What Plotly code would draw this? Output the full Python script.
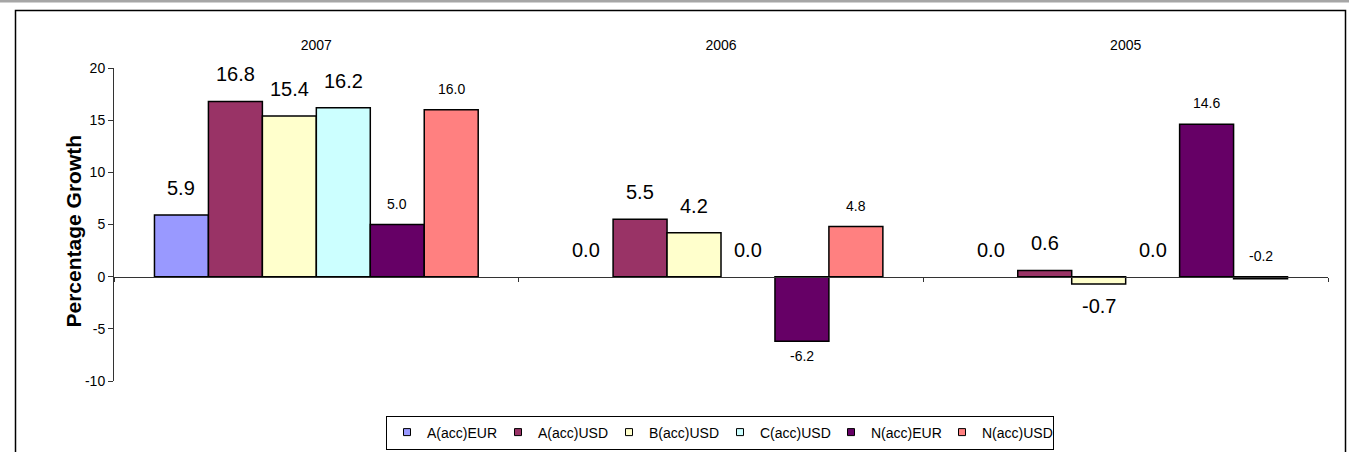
import plotly.graph_objects as go

W, H = 1349, 452

years = ["2007", "2006", "2005"]
series_names = ["A(acc)EUR", "A(acc)USD", "B(acc)USD", "C(acc)USD", "N(acc)EUR", "N(acc)USD"]
a_eur = [5.9, 0.0, 0.0]
a_usd = [16.8, 5.5, 0.6]
b_usd = [15.4, 4.2, -0.7]
c_usd = [16.2, 0.0, 0.0]
n_eur = [5.0, -6.2, 14.6]
n_usd = [16.0, 4.8, -0.2]
values = [a_eur, a_usd, b_usd, c_usd, n_eur, n_usd]
colors = ["#9999FF", "#993366", "#FFFFCC", "#CCFFFF", "#660066", "#FF8080"]
big_label = [True, True, True, True, False, False]
y_ticks = [-10, -5, 0, 5, 10, 15, 20]

FONT = "Liberation Sans, Arial, sans-serif"

# pixel layout -> paper fractions
px_x0, px_x1 = 114, 1328
px_ytop, px_ybot = 68, 381
xdom = [px_x0 / W, px_x1 / W]
ydom = [1 - px_ybot / H, 1 - px_ytop / H]
yrange = [-10, 20]
zero_pos = ydom[0] + (0 - yrange[0]) / (yrange[1] - yrange[0]) * (ydom[1] - ydom[0])

bargap = 0.2
n = len(series_names)
bw = (1 - bargap) / n
xcat = list(range(len(years)))

fig = go.Figure()
for j, (name, vals, col) in enumerate(zip(series_names, values, colors)):
    fig.add_trace(go.Bar(
        x=xcat, y=vals, name=name,
        marker=dict(color=col, line=dict(color="black", width=[0 if v == 0 else 1.5 for v in vals])),
        showlegend=False, hoverinfo="y"))
    # legend proxy
    fig.add_trace(go.Scatter(
        x=[None], y=[None], mode="markers", name=name,
        marker=dict(symbol="square", size=7, color=col, line=dict(color="black", width=1))))

# axis line at zero with category boundary ticks
fig.add_trace(go.Scatter(x=[None], y=[None], xaxis="x2", yaxis="y", showlegend=False, hoverinfo="skip"))

annotations = []
for j, vals in enumerate(values):
    for i, v in enumerate(vals):
        xc = i - (1 - bargap) / 2 + (j + 0.5) * bw
        below = v < -0.5
        if big_label[j]:
            size, up, down = 20, 27, -22
        else:
            size, up, down = 14, 21, -15
        annotations.append(dict(
            x=xc, y=v if below else max(v, 0), xref="x", yref="y",
            text=f"{v:.1f}", showarrow=False, yanchor="middle", xanchor="center",
            yshift=down if below else up, font=dict(size=size, color="black", family=FONT)))

annotations.append(dict(
    x=60 / W, y=1 - 231 / H, xref="paper", yref="paper", text="<b>Percentage Growth</b>",
    textangle=-90, showarrow=False, font=dict(size=21, color="black", family=FONT)))

shapes = [
    dict(type="rect", xref="paper", yref="paper", x0=0, x1=1, y0=1 - 2.5 / H, y1=1.02,
         fillcolor="#a6a6a6", line=dict(width=0), layer="above"),
    dict(type="rect", xref="paper", yref="paper", x0=15.5 / W, x1=1345.5 / W, y0=-0.1, y1=1 - 10.5 / H,
         line=dict(color="black", width=1.5), fillcolor="rgba(0,0,0,0)"),
]

fig.update_layout(
    width=W, height=H, margin=dict(l=0, r=0, t=0, b=0),
    paper_bgcolor="white", plot_bgcolor="white",
    barmode="group", bargap=bargap, bargroupgap=0,
    font=dict(family=FONT, color="black"),
    xaxis=dict(domain=xdom, range=[-0.5, 2.5], tickvals=xcat, ticktext=years, side="top",
               showline=False, showgrid=False, zeroline=False, ticks="", ticklabelstandoff=14,
               tickfont=dict(size=14), automargin=False, fixedrange=True),
    xaxis2=dict(domain=xdom, range=[-0.5, 2.5], overlaying="x", anchor="free", position=zero_pos,
                side="bottom", tickvals=[-0.5, 0.5, 1.5, 2.5], ticks="outside", ticklen=4,
                tickcolor="#333", showticklabels=False, showline=True, linecolor="#333", linewidth=1,
                showgrid=False, zeroline=False, automargin=False),
    yaxis=dict(domain=ydom, range=yrange, tickvals=y_ticks, ticktext=[str(t) for t in y_ticks],
               ticks="outside", ticklen=5,
               tickcolor="#333", showline=True, linecolor="#333", linewidth=1, showgrid=False,
               zeroline=False, tickfont=dict(size=14), automargin=False, fixedrange=True),
    legend=dict(orientation="h", x=720 / W, xanchor="center", y=1 - 432.5 / H, yanchor="middle",
                bgcolor="white", bordercolor="black", borderwidth=1, font=dict(size=14),
                entrywidth=66, entrywidthmode="pixels", itemwidth=30),
    annotations=annotations, shapes=shapes, showlegend=True,
)

fig.write_html("out.html", config={"displayModeBar": False},
               post_script="document.body.style.margin='0px';document.body.style.overflow='hidden';")
